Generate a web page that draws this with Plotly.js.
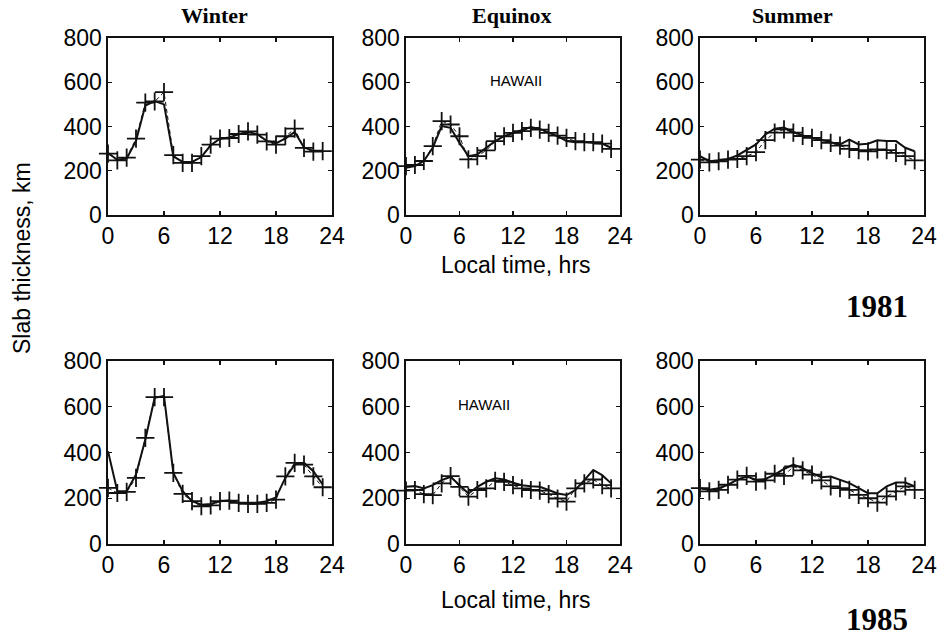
<!DOCTYPE html>
<html>
<head>
<meta charset="utf-8">
<script src="https://cdn.plot.ly/plotly-3.0.1.min.js"></script>
<style>html,body{margin:0;padding:0;background:#fff}#chart{width:942px;height:639px}</style>
</head>
<body>
<div id="chart"></div>
<script>
const hours = [0,1,2,3,4,5,6,7,8,9,10,11,12,13,14,15,16,17,18,19,20,21,22,23];

// 1981
const winter81Obs = [280,250,255,335,495,515,500,265,240,240,262,315,345,350,365,375,365,335,325,345,375,305,290,290];
const winter81Mod = [277,247,259,345,508,513,555,271,236,236,266,318,345,348,366,378,363,333,318,356,390,303,286,289];
const equinox81Obs = [214,221,244,304,402,394,326,266,274,304,334,356,371,386,398,389,371,356,334,329,329,326,323,304];
const equinox81Mod = [221,226,244,311,424,409,356,251,266,292,334,356,371,379,394,386,371,359,349,334,329,329,323,299];
const summer81Obs = [266,243,247,253,269,296,319,364,390,395,375,360,349,338,329,319,341,319,322,338,334,334,304,288];
const summer81Mod = [250,238,243,250,253,266,284,338,372,387,372,357,349,338,326,314,299,293,288,296,293,281,266,247];

// 1985
const winter85Obs = [406,231,231,304,457,639,647,311,231,187,172,175,187,190,180,180,180,187,204,289,347,355,318,260];
const winter85Mod = [245,223,228,289,464,642,642,311,219,187,165,169,187,190,180,175,175,180,194,296,355,347,296,248];
const equinox85Obs = [250,253,243,257,279,294,257,221,250,272,287,282,268,257,253,250,236,221,214,236,279,323,301,265];
const equinox85Mod = [233,236,218,214,265,297,250,207,236,243,276,272,257,243,236,233,218,199,185,243,265,282,257,243];
const summer85Obs = [244,237,244,259,281,295,281,284,303,328,347,332,310,292,295,281,266,244,222,222,252,269,269,252];
const summer85Mod = [244,230,237,259,281,298,273,278,307,298,339,322,303,278,252,244,237,215,200,181,208,230,252,237];

const seasons = ['Winter','Equinox','Summer'];
const years = ['1981','1985'];
const xTicks = [0,6,12,18,24];
const yTicks = [0,200,400,600,800];

const panels = [
  [winter81Obs, winter81Mod], [equinox81Obs, equinox81Mod], [summer81Obs, summer81Mod],
  [winter85Obs, winter85Mod], [equinox85Obs, equinox85Mod], [summer85Obs, summer85Mod]
];

const W = 942, H = 639;
const cols = [[108,332],[406,620],[700,924]];
const rows = [[38,215],[361,544]];
const SANS = 'Liberation Sans, Arial, sans-serif';
const SERIF = 'Liberation Serif, Times New Roman, serif';

const traces = [];
const layout = {
  width: W, height: H,
  margin: {l:0,r:0,t:0,b:0},
  paper_bgcolor: '#fff', plot_bgcolor: '#fff',
  showlegend: false,
  font: {family: SANS, color: '#000'},
  annotations: []
};

panels.forEach((p, i) => {
  const n = i + 1;
  const xa = n === 1 ? 'x' : 'x' + n;
  const ya = n === 1 ? 'y' : 'y' + n;
  const c = cols[i % 3], r = rows[Math.floor(i / 3)];
  traces.push({
    x: hours, y: p[0], xaxis: xa, yaxis: ya, mode: 'lines',
    line: {color: '#111', width: 2}, hoverinfo: 'skip'
  });
  traces.push({
    x: hours, y: p[1], xaxis: xa, yaxis: ya, mode: 'lines+markers',
    line: {color: '#111', width: 1, dash: '4px,3px'},
    marker: {symbol: 'cross-thin', size: 13, line: {color: '#111', width: 1.8}},
    cliponaxis: false, hoverinfo: 'skip'
  });
  const axCommon = {
    showline: true, mirror: 'ticks', linecolor: '#111', linewidth: 1.6,
    ticks: 'inside', ticklen: 4, tickwidth: 1.2, tickcolor: '#111',
    showgrid: false, zeroline: false, fixedrange: true,
    tickfont: {family: SANS, size: 23, color: '#000'}
  };
  layout['xaxis' + (n === 1 ? '' : n)] = Object.assign({}, axCommon, {
    domain: [c[0] / W, c[1] / W], anchor: ya, range: [0, 24],
    tickvals: xTicks, ticktext: xTicks.map(String)
  });
  layout['yaxis' + (n === 1 ? '' : n)] = Object.assign({}, axCommon, {
    domain: [1 - r[1] / H, 1 - r[0] / H], anchor: xa, range: [0, 800],
    tickvals: yTicks, ticktext: yTicks.map(String)
  });
});

function ann(o) {
  layout.annotations.push(Object.assign({showarrow: false, xanchor: 'center', yanchor: 'middle'}, o));
}

// Season titles
const titleX = [214, 512, 792];
seasons.forEach((s, i) => {
  ann({text: '<b>' + s + '</b>', xref: 'paper', yref: 'paper',
    x: titleX[i] / W, y: 1 - 15 / H,
    font: {family: SERIF, size: 22, color: '#000'}});
});

// Year labels
const yearY = [306, 619];
years.forEach((yr, i) => {
  ann({text: '<b>' + yr + '</b>', xref: 'paper', yref: 'paper',
    x: 877 / W, y: 1 - yearY[i] / H,
    font: {family: SERIF, size: 31, color: '#000'}});
});

// Axis titles
[265, 600].forEach(yy => {
  ann({text: 'Local time, hrs', xref: 'paper', yref: 'paper',
    x: 516 / W, y: 1 - yy / H,
    font: {family: SANS, size: 23, color: '#000'}});
});
ann({text: 'Slab thickness, km', xref: 'paper', yref: 'paper',
  x: 22 / W, y: 1 - 258 / H, textangle: -90,
  font: {family: SANS, size: 23, color: '#000'}});

// Station labels
ann({text: 'HAWAII', xref: 'x2', yref: 'y2', x: 12.3, y: 606,
  font: {family: SANS, size: 15, color: '#000'}});
ann({text: 'HAWAII', xref: 'x5', yref: 'y5', x: 8.75, y: 612,
  font: {family: SANS, size: 15, color: '#000'}});

Plotly.newPlot('chart', traces, layout, {staticPlot: true, displayModeBar: false});
</script>
</body>
</html>
